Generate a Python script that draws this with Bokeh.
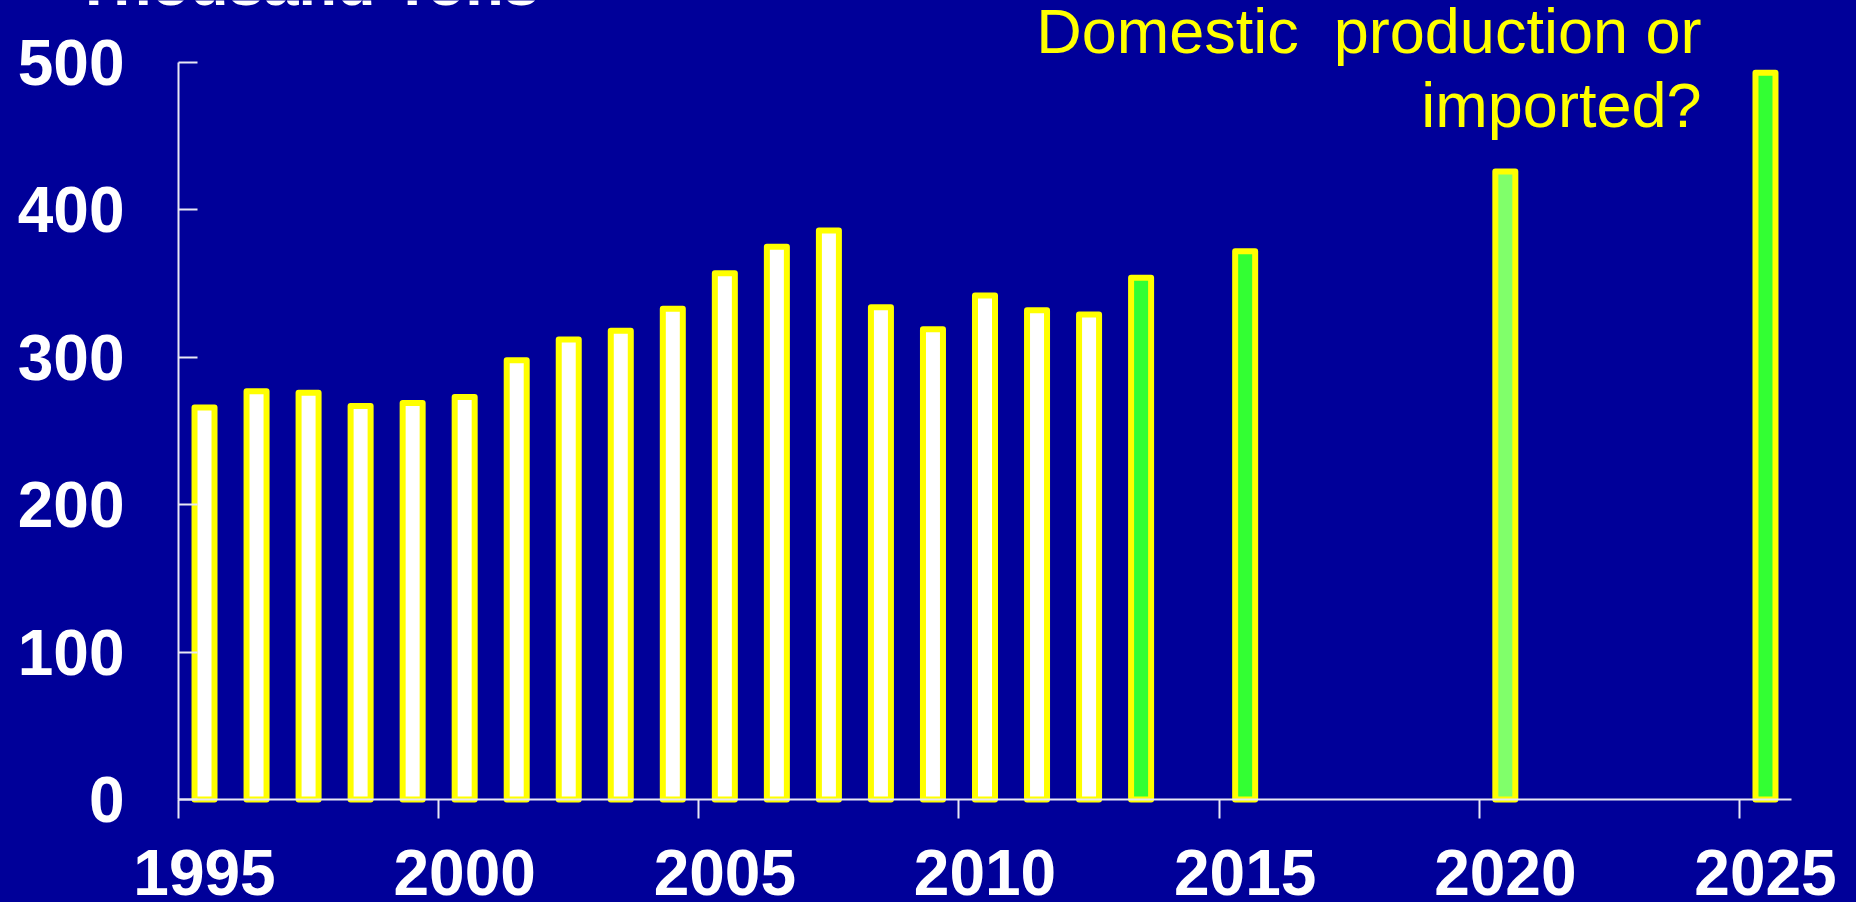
from bokeh.plotting import figure
from bokeh.models import Range1d, FixedTicker, LinearAxis, Label, ColumnDataSource
from bokeh.embed import file_html
from bokeh.resources import INLINE

# ---------------- data ----------------
years = [1995, 1996, 1997, 1998, 1999, 2000, 2001, 2002, 2003, 2004,
         2005, 2006, 2007, 2008, 2009, 2010, 2011, 2012, 2013,
         2015, 2020, 2025]
values = [266, 277, 276, 267, 269, 273, 298, 312, 318, 333,
          357, 375, 386, 334, 319, 342, 332, 329, 354,
          372, 426, 493]
kinds = ["actual"] * 18 + ["projected", "projected", "projected_pale", "projected"]
y_ticks = [0, 100, 200, 300, 400, 500]
x_tick_years = [1995, 2000, 2005, 2010, 2015, 2020, 2025]
title_text = "Thousand Tons"
note_lines = ["Domestic\u00a0 production or", "imported?"]

# ---------------- styles / layout ----------------
BG = "#000099"
YELLOW = "#FFFF00"
AXIS = "#E8E8F4"
FILLS = {"actual": "#FFFFFF", "projected": "#33FF33", "projected_pale": "#80FF6A"}
FONT = "Liberation Sans"

W, H = 1856, 902
AX_LEFT_PX, AX_RIGHT_PX = 178, 1791     # x = 1994.5 .. 2025.5
AX_TOP_PX, AX_ZERO_PX = 62, 799         # y = 500 .. 0
x_lo, x_hi = 1994.5, 2025.5
y_lo, y_hi = 0, 500
px_per_x = (AX_RIGHT_PX - AX_LEFT_PX) / (x_hi - x_lo)
px_per_y = (AX_ZERO_PX - AX_TOP_PX) / (y_hi - y_lo)


def sx(px):
    return x_lo + (px - AX_LEFT_PX) / px_per_x


def sy(py):
    return y_hi - (py - AX_TOP_PX) / px_per_y


src = ColumnDataSource(dict(year=years, value=values,
                            fill=[FILLS[k] for k in kinds]))

p = figure(width=W, height=H, x_range=Range1d(sx(0), sx(W)),
           y_range=Range1d(sy(H), sy(0)), output_backend="svg",
           toolbar_location=None, x_axis_type=None, y_axis_type=None,
           background_fill_color=BG, border_fill_color=BG,
           outline_line_color=None,
           min_border_left=0, min_border_right=0,
           min_border_top=0, min_border_bottom=0)

p.vbar(x="year", top="value", bottom=0, width=20 / px_per_x, source=src,
       fill_color="fill", line_color=YELLOW, line_width=6, line_join="round")

# y axis
yaxis = LinearAxis(ticker=FixedTicker(ticks=y_ticks), bounds=(y_lo, y_hi),
                   fixed_location=x_lo,
                   major_tick_in=19, major_tick_out=0,
                   minor_tick_line_color=None,
                   axis_line_color=AXIS, axis_line_width=2,
                   major_tick_line_color=AXIS, major_tick_line_width=2,
                   major_label_text_font=FONT, major_label_text_font_style="bold",
                   major_label_text_font_size="64px", major_label_text_color="white",
                   major_label_standoff=54)
p.add_layout(yaxis, "left")

# x axis: tick marks at the year boundaries
xaxis_ticks = LinearAxis(ticker=FixedTicker(ticks=[t - 0.5 for t in x_tick_years]),
                         fixed_location=0, bounds=(x_lo, x_hi),
                         major_tick_in=0, major_tick_out=19,
                         minor_tick_line_color=None,
                         axis_line_color=AXIS, axis_line_width=2,
                         major_tick_line_color=AXIS, major_tick_line_width=2,
                         major_label_overrides={t - 0.5: "" for t in x_tick_years},
                         major_label_text_font_size="1px")
p.add_layout(xaxis_ticks, "below")

# x axis: labels centred on the bars
xaxis_labels = LinearAxis(ticker=FixedTicker(ticks=x_tick_years),
                          fixed_location=0, bounds=(x_lo, x_hi),
                          major_tick_in=0, major_tick_out=19,
                          minor_tick_line_color=None,
                          axis_line_color=None, major_tick_line_color=None,
                          major_label_text_font=FONT, major_label_text_font_style="bold",
                          major_label_text_font_size="64px", major_label_text_color="white",
                          major_label_standoff=31)
p.add_layout(xaxis_labels, "below")

p.add_layout(Label(x=sx(74), y=sy(-18), text=title_text, text_font=FONT,
                   text_font_style="bold", text_font_size="63px",
                   text_color="white", text_baseline="alphabetic"))

for line, base in zip(note_lines, [30, 104]):
    p.add_layout(Label(x=sx(1701), y=sy(base), text=line, text_font=FONT,
                       text_font_size="63px", text_color=YELLOW,
                       text_align="right", text_baseline="alphabetic"))

html = file_html(p, INLINE)
html = html.replace("</head>",
                    "<style>html,body{margin:0;padding:0;background:%s;overflow:hidden;}</style></head>" % BG, 1)
open("out.html", "w").write(html)
